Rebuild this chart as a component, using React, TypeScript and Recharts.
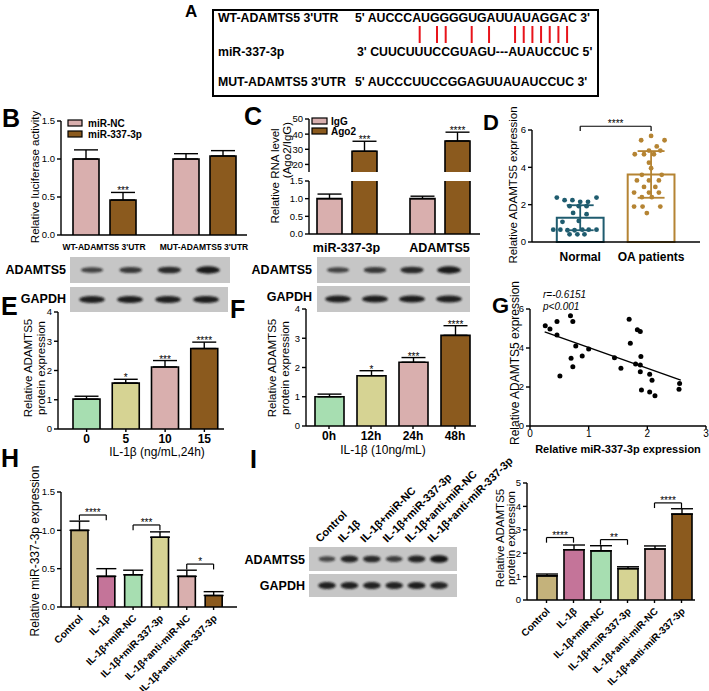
import React from "react";
import {
  BarChart,
  Bar,
  XAxis,
  YAxis,
  ErrorBar,
  Cell,
  ReferenceLine,
  ReferenceArea,
  ScatterChart,
  Scatter,
} from "recharts";

const FONT = "'Liberation Sans', Arial, Helvetica, sans-serif";
const PINK = "#D9AFAE";
const BROWN = "#8B5A1E";
const GREEN = "#A7DEB1";
const KHAKI = "#D6D393";
const TAN = "#C4B27B";
const MAUVE = "#C47499";
const TEAL = "#1F5C6F";
const GOLD = "#B58433";

// A: sequence alignment
const seqLabels = ["WT-ADAMTS5 3'UTR", "miR-337-3p", "MUT-ADAMTS5 3'UTR"];
const seqTexts = [
  "5' AUCCCAUGGGGUGAUUAUAGGAC 3'",
  "3' CUUCUUUCCGUAGU---AUAUCCUC 5'",
  "5' AUCCCUUCCGGAGUUAUAUCCUC 3'",
];
const pairCols = [5, 7, 8, 11, 13, 16, 17, 18, 19, 20, 21, 22];

// B: luciferase
const bGroups = ["WT-ADAMTS5 3'UTR", "MUT-ADAMTS5 3'UTR"];
const bNC = [1.0, 1.0];
const bNCErr = [0.12, 0.07];
const bMiR = [0.46, 1.04];
const bMiRErr = [0.1, 0.07];
const bStars = ["***", ""];

// C: RIP
const cGroups = ["miR-337-3p", "ADAMTS5"];
const cIgG = [1.0, 1.0];
const cIgGErr = [0.13, 0.07];
const cAgo2 = [28.7, 35.5];
const cAgo2Err = [6.6, 5.8];
const cStars = ["***", "****"];

// D: patients
const dGroups = ["Normal", "OA patients"];
const dMeans = [1.3, 3.62];
const dSD = [0.67, 1.25];
const normalVals = [2.38, 2.24, 2.24, 2.15, 2.15, 2.38, 1.92, 1.92, 1.92, 1.56, 1.49, 1.08, 1.13, 0.66, 0.66, 0.63, 0.63, 0.66, 0.66, 0.66, 0.41, 0.41, 0.41];
const normalJitter = [-0.33, -0.22, -0.11, 0.0, 0.11, 0.23, -0.15, -0.02, 0.09, -0.1, 0.09, -0.25, -0.02, -0.38, -0.28, -0.18, -0.08, 0.03, 0.12, 0.23, -0.15, -0.04, 0.06];
const oaVals = [5.68, 5.45, 5.45, 5.12, 4.9, 4.9, 4.7, 4.7, 4.7, 4.25, 3.95, 3.6, 3.6, 3.3, 3.3, 3.3, 2.95, 2.95, 2.65, 2.65, 2.65, 2.4, 2.4, 1.9, 1.9, 1.9, 1.55];
const oaJitter = [0, -0.14, 0.19, 0.08, -0.03, 0.13, -0.1, -0.23, 0.04, -0.03, 0, -0.13, 0.15, -0.2, -0.03, 0.11, -0.1, 0.06, -0.24, -0.03, 0.11, -0.13, 0.01, -0.24, -0.12, 0.13, -0.06];

// E: dose
const eDoses = ["0", "5", "10", "15"];
const eVals = [1.02, 1.57, 2.12, 2.75];
const eErr = [0.1, 0.13, 0.22, 0.22];
const eStars = ["", "*", "***", "****"];
const eBlotTarget = [0.55, 0.65, 0.8, 0.95];
const eBlotGapdh = [0.9, 0.92, 0.9, 0.92];

// F: time
const fTimes = ["0h", "12h", "24h", "48h"];
const fVals = [1.0, 1.72, 2.18, 3.1];
const fErr = [0.09, 0.17, 0.16, 0.33];
const fStars = ["", "*", "***", "****"];
const fBlotTarget = [0.55, 0.65, 0.8, 0.95];
const fBlotGapdh = [0.9, 0.92, 0.92, 0.9];

// G: correlation
const gMir = [0.26, 0.34, 0.46, 0.46, 0.51, 0.69, 0.73, 0.7, 0.73, 0.78, 0.89, 1.0, 1.44, 1.55, 1.69, 1.71, 1.8, 1.83, 1.88, 1.88, 1.88, 1.89, 1.9, 2.04, 2.04, 2.08, 2.13, 2.54, 2.55];
const gAdamts = [5.14, 4.97, 5.36, 4.67, 2.56, 5.65, 5.36, 3.47, 3.04, 4.1, 3.59, 3.95, 3.5, 2.96, 5.48, 4.24, 3.18, 4.93, 4.85, 3.13, 2.78, 3.56, 1.84, 2.65, 1.75, 2.35, 1.55, 1.89, 2.18];
const gFitX = [0.25, 2.57];
const gFitY = [4.83, 2.35];

// H / I: six treatment groups
const groups6 = ["Control", "IL-1β", "IL-1β+miR-NC", "IL-1β+miR-337-3p", "IL-1β+anti-miR-NC", "IL-1β+anti-miR-337-3p"];
const colors6 = [TAN, MAUVE, GREEN, KHAKI, PINK, BROWN];
const hVals = [1.0, 0.4, 0.42, 0.91, 0.4, 0.15];
const hErr = [0.12, 0.1, 0.06, 0.07, 0.08, 0.05];
const hBrFrom = [0, 2, 4];
const hBrTo = [1, 3, 5];
const hBrY = [1.2, 1.07, 0.56];
const hBrStars = ["****", "***", "*"];
const iVals = [1.03, 2.15, 2.1, 1.34, 2.18, 3.67];
const iErr = [0.08, 0.2, 0.22, 0.08, 0.13, 0.23];
const iBrFrom = [0, 2, 4];
const iBrTo = [1, 3, 5];
const iBrY = [2.67, 2.58, 4.15];
const iBrStars = ["****", "**", "****"];
const iBlotTarget = [0.5, 0.85, 0.8, 0.6, 0.85, 1.0];
const iBlotGapdh = [0.9, 0.9, 0.88, 0.88, 0.92, 0.85];

const YW = 34;
const MT = 10;
const MR = 8;
const AX = { stroke: "#000", strokeWidth: 1.4 };
const yTick = { fontSize: 9.5, fill: "#000" };

function place(x0: number, y0: number, x1: number, y1: number, xh: number, mt = MT) {
  return {
    left: x0 - YW,
    top: y0 - mt,
    width: YW + (x1 - x0) + MR,
    height: mt + (y1 - y0) + xh,
    margin: { top: mt, right: MR, left: 0, bottom: 0 },
  };
}

// bar with open bottom edge, optional star above its error bar, optional clamp at plot top (axis break)
function makeShape(valKey: string, errKey?: string, starKey?: string, base = 0, clampTop?: number) {
  return (p: any) => {
    const { x, width, fill, payload } = p;
    let { y, height } = p;
    const v = payload ? payload[valKey] : null;
    if (v == null || !Number.isFinite(y) || !Number.isFinite(height)) return <g />;
    const star = starKey ? payload[starKey] : "";
    let ty = y;
    if (star && errKey) ty = y - (height / (v - base)) * payload[errKey][1];
    let clipped = false;
    if (clampTop != null && y < clampTop) {
      height = y + height - clampTop;
      y = clampTop;
      clipped = true;
    }
    const d = clipped
      ? `M${x},${y + height} L${x},${y} M${x + width},${y} L${x + width},${y + height}`
      : `M${x},${y + height} L${x},${y} L${x + width},${y} L${x + width},${y + height}`;
    return (
      <g>
        <rect x={x} y={y} width={width} height={height} fill={fill} />
        <path d={d} fill="none" stroke="#000" strokeWidth={1.6} />
        {star ? (
          <text x={x + width / 2} y={ty + 2} textAnchor="middle" fontSize={10} fill="#000">
            {star}
          </text>
        ) : null}
      </g>
    );
  };
}

const RotTick = (props: any) => {
  const { x, y, payload } = props;
  const ax = x + 4;
  const ay = y + 7;
  return (
    <text x={ax} y={ay} transform={`rotate(-45 ${ax} ${ay})`} textAnchor="end" fontSize={10} fontWeight="bold" fill="#000">
      {payload.value}
    </text>
  );
};

function Chart({ box, children }: { box: ReturnType<typeof place>; children: React.ReactNode }) {
  return <div style={{ position: "absolute", left: box.left, top: box.top }}>{children}</div>;
}

function Brackets({ from, to, ys, stars, drop }: { from: number[]; to: number[]; ys: number[]; stars: string[]; drop: number }) {
  return (
    <>
      {from.map((f, i) => {
        const a = groups6[f];
        const b = groups6[to[i]];
        return [
          <ReferenceLine
            key={`h${i}`}
            segment={[{ x: a, y: ys[i] }, { x: b, y: ys[i] }]}
            stroke="#000"
            strokeWidth={1.2}
            ifOverflow="visible"
            label={{ value: stars[i], position: "top", offset: -1, fontSize: 10, fill: "#000" }}
          />,
          <ReferenceLine key={`l${i}`} segment={[{ x: a, y: ys[i] }, { x: a, y: ys[i] - drop }]} stroke="#000" strokeWidth={1.2} ifOverflow="visible" />,
          <ReferenceLine key={`r${i}`} segment={[{ x: b, y: ys[i] }, { x: b, y: ys[i] - drop }]} stroke="#000" strokeWidth={1.2} ifOverflow="visible" />,
        ];
      })}
    </>
  );
}

function Blot({ x, y, w, h, pad, bandW, bands }: { x: number; y: number; w: number; h: number; pad: number; bandW: number; bands: number[] }) {
  const step = (w - 2 * pad) / (bands.length - 1);
  return (
    <g>
      <rect x={x} y={y} width={w} height={h} fill="#c6c6c6" />
      {bands.map((b, i) => (
        <ellipse
          key={i}
          cx={x + pad + i * step}
          cy={y + h / 2}
          rx={(bandW / 2) * (0.85 + 0.15 * b)}
          ry={1.6 + 2.2 * b}
          fill="#141414"
          opacity={0.45 + 0.55 * b}
          filter="url(#bandBlur)"
        />
      ))}
    </g>
  );
}

function VText({ x, y, size, children, bold }: { x: number; y: number; size: number; children: React.ReactNode; bold?: boolean }) {
  return (
    <text transform={`translate(${x} ${y}) rotate(-90)`} textAnchor="middle" dominantBaseline="central" fontSize={size} fontWeight={bold ? "bold" : "normal"} fill="#000">
      {children}
    </text>
  );
}

export default function App() {
  const bData = bGroups.map((name, i) => ({ name, nc: bNC[i], ncE: [0, bNCErr[i]], mir: bMiR[i], mirE: [0, bMiRErr[i]], star: bStars[i] }));
  const cLow = cGroups.map((name, i) => ({ name, igg: cIgG[i], iggE: [0, cIgGErr[i]], ago: cAgo2[i] }));
  const cHigh = cGroups.map((name, i) => ({ name, igg: null, ago: cAgo2[i], agoE: [0, cAgo2Err[i]], star: cStars[i] }));
  const normalPts = normalVals.map((v, i) => ({ x: 1 + normalJitter[i], y: v }));
  const oaPts = oaVals.map((v, i) => ({ x: 2 + oaJitter[i], y: v }));
  const eData = eDoses.map((name, i) => ({ name, v: eVals[i], e: [0, eErr[i]], star: eStars[i] }));
  const fData = fTimes.map((name, i) => ({ name, v: fVals[i], e: [0, fErr[i]], star: fStars[i] }));
  const gPts = gMir.map((x, i) => ({ x, y: gAdamts[i] }));
  const hData = groups6.map((name, i) => ({ name, v: hVals[i], e: [0, hErr[i]] }));
  const iData = groups6.map((name, i) => ({ name, v: iVals[i], e: [0, iErr[i]] }));

  const bBox = place(61, 121, 247, 235, 16);
  const cHiBox = place(309, 119, 480, 172, 0);
  const cLoBox = place(309, 181, 480, 234, 20);
  const dBox = place(532, 130, 700, 242, 22, 22);
  const eBox = place(58, 312, 224, 429, 18);
  const fBox = place(306, 309, 476, 426, 18);
  const gBox = place(530, 309, 706, 426, 16);
  const hBox = place(61, 492, 237, 607, 100);
  const iBox = place(527, 483, 695, 600, 110);
  const errProps = { stroke: "#000", strokeWidth: 1.4, width: 12 };

  const gridX = 372;
  const colW = 8.67;

  return (
    <div style={{ position: "fixed", left: 0, top: 0, width: 709, height: 691, overflow: "hidden", background: "#fff", fontFamily: FONT }}>
      {/* B */}
      <Chart box={bBox}>
        <BarChart width={bBox.width} height={bBox.height} data={bData} margin={bBox.margin} barGap={11} barSize={26}>
          <XAxis dataKey="name" height={16} interval={0} axisLine={AX} tickLine={false} tickMargin={3} padding={{ left: -7, right: -7 }} tick={{ fontSize: 8.5, fontWeight: "bold", fill: "#000" }} />
          <YAxis width={YW} domain={[0, 1.5]} ticks={[0, 0.5, 1, 1.5]} tickFormatter={(v: number) => v.toFixed(1)} axisLine={AX} tickLine={AX} tickSize={4} tickMargin={2} tick={yTick} />
          <Bar dataKey="nc" fill={PINK} shape={makeShape("nc")} isAnimationActive={false}>
            <ErrorBar dataKey="ncE" {...errProps} />
          </Bar>
          <Bar dataKey="mir" fill={BROWN} shape={makeShape("mir", "mirE", "star")} isAnimationActive={false}>
            <ErrorBar dataKey="mirE" {...errProps} />
          </Bar>
        </BarChart>
      </Chart>

      {/* C upper segment */}
      <Chart box={cHiBox}>
        <BarChart width={cHiBox.width} height={cHiBox.height} data={cHigh} margin={cHiBox.margin} barGap={10} barSize={25}>
          <XAxis dataKey="name" hide padding={{ left: -9, right: -6 }} />
          <YAxis width={YW} domain={[15, 50]} ticks={[20, 30, 40, 50]} allowDataOverflow axisLine={AX} tickLine={AX} tickSize={4} tickMargin={2} tick={yTick} />
          <Bar dataKey="igg" fill={PINK} shape={makeShape("igg")} isAnimationActive={false} />
          <Bar dataKey="ago" fill={BROWN} shape={makeShape("ago", "agoE", "star", 15)} isAnimationActive={false}>
            <ErrorBar dataKey="agoE" {...errProps} />
          </Bar>
        </BarChart>
      </Chart>

      {/* C lower segment */}
      <Chart box={cLoBox}>
        <BarChart width={cLoBox.width} height={cLoBox.height} data={cLow} margin={cLoBox.margin} barGap={10} barSize={25}>
          <XAxis dataKey="name" height={20} interval={0} axisLine={AX} tickLine={false} tickMargin={3} padding={{ left: -9, right: -6 }} tick={{ fontSize: 12.5, fontWeight: "bold", fill: "#000" }} />
          <YAxis width={YW} domain={[0, 1.5]} ticks={[0, 0.5, 1, 1.5]} allowDataOverflow tickFormatter={(v: number) => v.toFixed(1)} axisLine={AX} tickLine={AX} tickSize={4} tickMargin={2} tick={yTick} />
          <Bar dataKey="igg" fill={PINK} shape={makeShape("igg")} isAnimationActive={false}>
            <ErrorBar dataKey="iggE" {...errProps} />
          </Bar>
          <Bar dataKey="ago" fill={BROWN} shape={makeShape("ago", undefined, undefined, 0, MT)} isAnimationActive={false} />
        </BarChart>
      </Chart>

      {/* D */}
      <Chart box={dBox}>
        <ScatterChart width={dBox.width} height={dBox.height} margin={dBox.margin}>
          <XAxis type="number" dataKey="x" domain={[0.32, 2.69]} ticks={[1, 2]} tickFormatter={(v: number) => dGroups[v - 1]} height={22} axisLine={AX} tickLine={false} tickMargin={4} tick={{ fontSize: 12, fontWeight: "bold", fill: "#000" }} />
          <YAxis type="number" dataKey="y" width={YW} domain={[0, 6]} ticks={[0, 2, 4, 6]} axisLine={AX} tickLine={AX} tickSize={4} tickMargin={2} tick={yTick} />
          {dMeans.map((m, i) => (
            <ReferenceArea key={`a${i}`} x1={i + 1 - 0.33} x2={i + 1 + 0.33} y1={0} y2={m} fill="#fff" fillOpacity={0} stroke={i === 0 ? TEAL : GOLD} strokeWidth={2} />
          ))}
          <Scatter data={normalPts} isAnimationActive={false} shape={(p: any) => <circle cx={p.cx} cy={p.cy} r={2.4} fill={TEAL} />} />
          <Scatter data={oaPts} isAnimationActive={false} shape={(p: any) => <circle cx={p.cx} cy={p.cy} r={2.4} fill={GOLD} />} />
          {dMeans.map((m, i) => {
            const c = i + 1;
            const col = i === 0 ? TEAL : GOLD;
            return [
              <ReferenceLine key={`v${i}`} segment={[{ x: c, y: m - dSD[i] }, { x: c, y: m + dSD[i] }]} stroke={col} strokeWidth={1.8} />,
              <ReferenceLine key={`t${i}`} segment={[{ x: c - 0.19, y: m + dSD[i] }, { x: c + 0.19, y: m + dSD[i] }]} stroke={col} strokeWidth={1.8} />,
              <ReferenceLine key={`b${i}`} segment={[{ x: c - 0.19, y: m - dSD[i] }, { x: c + 0.19, y: m - dSD[i] }]} stroke={col} strokeWidth={1.8} />,
            ];
          })}
          <ReferenceLine segment={[{ x: 1, y: 6.2 }, { x: 2, y: 6.2 }]} stroke="#000" strokeWidth={1.2} ifOverflow="visible" label={{ value: "****", position: "top", offset: -1, fontSize: 10, fill: "#000" }} />
          <ReferenceLine segment={[{ x: 1, y: 6.2 }, { x: 1, y: 5.95 }]} stroke="#000" strokeWidth={1.2} ifOverflow="visible" />
          <ReferenceLine segment={[{ x: 2, y: 6.2 }, { x: 2, y: 5.95 }]} stroke="#000" strokeWidth={1.2} ifOverflow="visible" />
        </ScatterChart>
      </Chart>

      {/* E */}
      <Chart box={eBox}>
        <BarChart width={eBox.width} height={eBox.height} data={eData} margin={eBox.margin} barSize={27}>
          <XAxis dataKey="name" height={18} interval={0} axisLine={AX} tickLine={AX} tickSize={3} tickMargin={2} padding={{ left: 9, right: 0 }} tick={{ fontSize: 12, fontWeight: "bold", fill: "#000" }} />
          <YAxis width={YW} domain={[0, 4]} ticks={[0, 1, 2, 3, 4]} axisLine={AX} tickLine={AX} tickSize={4} tickMargin={2} tick={yTick} />
          <Bar dataKey="v" shape={makeShape("v", "e", "star")} isAnimationActive={false}>
            {eData.map((_, i) => (
              <Cell key={i} fill={[GREEN, KHAKI, PINK, BROWN][i]} />
            ))}
            <ErrorBar dataKey="e" {...errProps} />
          </Bar>
        </BarChart>
      </Chart>

      {/* F */}
      <Chart box={fBox}>
        <BarChart width={fBox.width} height={fBox.height} data={fData} margin={fBox.margin} barSize={29}>
          <XAxis dataKey="name" height={18} interval={0} axisLine={AX} tickLine={AX} tickSize={3} tickMargin={2} padding={{ left: 2, right: 0 }} tick={{ fontSize: 12, fontWeight: "bold", fill: "#000" }} />
          <YAxis width={YW} domain={[0, 4]} ticks={[0, 1, 2, 3, 4]} axisLine={AX} tickLine={AX} tickSize={4} tickMargin={2} tick={yTick} />
          <Bar dataKey="v" shape={makeShape("v", "e", "star")} isAnimationActive={false}>
            {fData.map((_, i) => (
              <Cell key={i} fill={[GREEN, KHAKI, PINK, BROWN][i]} />
            ))}
            <ErrorBar dataKey="e" {...errProps} />
          </Bar>
        </BarChart>
      </Chart>

      {/* G */}
      <Chart box={gBox}>
        <ScatterChart width={gBox.width} height={gBox.height} margin={gBox.margin}>
          <XAxis type="number" dataKey="x" domain={[0, 3]} ticks={[0, 1, 2, 3]} height={16} axisLine={AX} tickLine={AX} tickSize={3} tickMargin={1} tick={{ fontSize: 10, fill: "#000" }} />
          <YAxis type="number" dataKey="y" width={YW} domain={[0, 6]} ticks={[0, 2, 4, 6]} axisLine={AX} tickLine={AX} tickSize={4} tickMargin={2} tick={yTick} />
          <ReferenceLine segment={[{ x: gFitX[0], y: gFitY[0] }, { x: gFitX[1], y: gFitY[1] }]} stroke="#000" strokeWidth={1.4} />
          <Scatter data={gPts} isAnimationActive={false} shape={(p: any) => <circle cx={p.cx} cy={p.cy} r={2.5} fill="#000" />} />
        </ScatterChart>
      </Chart>

      {/* H */}
      <Chart box={hBox}>
        <BarChart width={hBox.width} height={hBox.height} data={hData} margin={hBox.margin} barSize={17}>
          <XAxis dataKey="name" height={100} interval={0} axisLine={AX} tickLine={AX} tickSize={3} padding={{ left: 5, right: 10 }} tick={<RotTick />} />
          <YAxis width={YW} domain={[0, 1.5]} ticks={[0, 0.5, 1, 1.5]} tickFormatter={(v: number) => v.toFixed(1)} axisLine={AX} tickLine={AX} tickSize={4} tickMargin={2} tick={yTick} />
          <Bar dataKey="v" shape={makeShape("v")} isAnimationActive={false}>
            {hData.map((_, i) => (
              <Cell key={i} fill={colors6[i]} />
            ))}
            <ErrorBar dataKey="e" stroke="#000" strokeWidth={1.4} width={10} />
          </Bar>
          {Brackets({ from: hBrFrom, to: hBrTo, ys: hBrY, stars: hBrStars, drop: 0.07 })}
        </BarChart>
      </Chart>

      {/* I */}
      <Chart box={iBox}>
        <BarChart width={iBox.width} height={iBox.height} data={iData} margin={iBox.margin} barSize={20}>
          <XAxis dataKey="name" height={110} interval={0} axisLine={AX} tickLine={AX} tickSize={3} padding={{ left: 6, right: 0 }} tick={<RotTick />} />
          <YAxis width={YW} domain={[0, 5]} ticks={[0, 1, 2, 3, 4, 5]} axisLine={AX} tickLine={AX} tickSize={4} tickMargin={2} tick={yTick} />
          <Bar dataKey="v" shape={makeShape("v")} isAnimationActive={false}>
            {iData.map((_, i) => (
              <Cell key={i} fill={colors6[i]} />
            ))}
            <ErrorBar dataKey="e" stroke="#000" strokeWidth={1.4} width={11} />
          </Bar>
          {Brackets({ from: iBrFrom, to: iBrTo, ys: iBrY, stars: iBrStars, drop: 0.22 })}
        </BarChart>
      </Chart>

      {/* annotations */}
      <svg width={709} height={691} style={{ position: "absolute", left: 0, top: 0, pointerEvents: "none", fontFamily: FONT }}>
        <defs>
          <filter id="bandBlur" x="-20%" y="-50%" width="140%" height="200%">
            <feGaussianBlur stdDeviation="0.9" />
          </filter>
        </defs>

        {/* panel letters */}
        <g fontWeight="bold" fill="#000">
          <text x={185} y={17} fontSize={17}>A</text>
          <text x={2} y={127} fontSize={25}>B</text>
          <text x={244} y={125} fontSize={25}>C</text>
          <text x={483} y={130} fontSize={22}>D</text>
          <text x={1} y={315} fontSize={25}>E</text>
          <text x={230} y={318} fontSize={25}>F</text>
          <text x={492} y={313} fontSize={22}>G</text>
          <text x={1} y={467} fontSize={25}>H</text>
          <text x={250} y={468} fontSize={25}>I</text>
        </g>

        {/* A */}
        <rect x={213} y={10} width={385} height={86} fill="none" stroke="#000" strokeWidth={2} />
        <g fontWeight="bold" fontSize={12.3} fill="#000">
          {seqLabels.map((l, i) => (
            <text key={l} x={218} y={[22, 56, 86][i]}>{l}</text>
          ))}
          {seqTexts.map((s, i) => (
            <text key={s} x={i === 1 ? 357 : 355} y={[22, 56, 86][i]}>{s}</text>
          ))}
        </g>
        {pairCols.map((k) => (
          <line key={k} x1={gridX + (k + 0.5) * colW} x2={gridX + (k + 0.5) * colW} y1={26} y2={43} stroke="#E8141B" strokeWidth={2} />
        ))}

        {/* B legend + title */}
        <rect x={68} y={120} width={14} height={6} fill={PINK} stroke="#000" strokeWidth={1.2} />
        <rect x={68} y={131} width={14} height={6} fill={BROWN} stroke="#000" strokeWidth={1.2} />
        <text x={88} y={127} fontSize={10} fontWeight="bold">miR-NC</text>
        <text x={88} y={138} fontSize={10} fontWeight="bold">miR-337-3p</text>
        <VText x={35} y={177} size={11.5}>Relative luciferase activity</VText>

        {/* C legend + title */}
        <rect x={312} y={118} width={15} height={6} fill={PINK} stroke="#000" strokeWidth={1.2} />
        <rect x={312} y={128} width={15} height={6} fill={BROWN} stroke="#000" strokeWidth={1.2} />
        <text x={331} y={125} fontSize={10} fontWeight="bold">IgG</text>
        <text x={331} y={135} fontSize={10} fontWeight="bold">Ago2</text>
        <VText x={275} y={176} size={11.5}>Relative RNA level</VText>
        <VText x={287} y={150} size={11.5}>(Ago2/IgG)</VText>

        {/* D title */}
        <VText x={513} y={185} size={11.5}>Relative ADAMTS5 expression</VText>

        {/* E */}
        <Blot x={70} y={257} w={160} h={26} pad={22} bandW={24} bands={eBlotTarget} />
        <Blot x={70} y={287} w={158} h={25} pad={22} bandW={26} bands={eBlotGapdh} />
        <text x={66} y={274} textAnchor="end" fontSize={12.5} fontWeight="bold">ADAMTS5</text>
        <text x={66} y={303} textAnchor="end" fontSize={12.5} fontWeight="bold">GAPDH</text>
        <VText x={28} y={368} size={11.5}>Relative ADAMTS5</VText>
        <VText x={41} y={368} size={11.5}>protein expression</VText>
        <text x={157} y={456} textAnchor="middle" fontSize={12}>IL-1β (ng/mL,24h)</text>

        {/* F */}
        <Blot x={317} y={257} w={153} h={26} pad={21} bandW={24} bands={fBlotTarget} />
        <Blot x={317} y={286} w={153} h={26} pad={21} bandW={26} bands={fBlotGapdh} />
        <text x={312} y={274} textAnchor="end" fontSize={12.5} fontWeight="bold">ADAMTS5</text>
        <text x={312} y={301} textAnchor="end" fontSize={12.5} fontWeight="bold">GAPDH</text>
        <VText x={272} y={368} size={11.5}>Relative ADAMTS5</VText>
        <VText x={285} y={368} size={11.5}>protein expression</VText>
        <text x={383} y={454} textAnchor="middle" fontSize={12}>IL-1β (10ng/mL)</text>

        {/* G */}
        <text x={543} y={298} fontSize={10} fontStyle="italic">r=-0.6151</text>
        <text x={543} y={310} fontSize={10} fontStyle="italic">p&lt;0.001</text>
        <VText x={515} y={363} size={12}>Relative ADAMTS5 expression</VText>
        <text x={618} y={453} textAnchor="middle" fontSize={11} fontWeight="bold">Relative miR-337-3p expression</text>

        {/* H */}
        <VText x={35} y={551} size={12}>Relative miR-337-3p expression</VText>

        {/* I blot */}
        <Blot x={309} y={547} w={148} h={24} pad={18} bandW={18} bands={iBlotTarget} />
        <Blot x={309} y={574} w={148} h={23} pad={18} bandW={18} bands={iBlotGapdh} />
        <text x={305} y={564} textAnchor="end" fontSize={12.5} fontWeight="bold">ADAMTS5</text>
        <text x={305} y={590} textAnchor="end" fontSize={12.5} fontWeight="bold">GAPDH</text>
        {groups6.map((g, i) => {
          const cx = 309 + 18 + i * ((148 - 36) / 5) - 7;
          return (
            <text key={g} x={cx} y={543} transform={`rotate(-45 ${cx} 543)`} fontSize={11} fontWeight="bold">
              {g}
            </text>
          );
        })}
        <VText x={500} y={538} size={11.5}>Relative ADAMTS5</VText>
        <VText x={511} y={538} size={11.5}>protein expression</VText>
      </svg>
    </div>
  );
}
